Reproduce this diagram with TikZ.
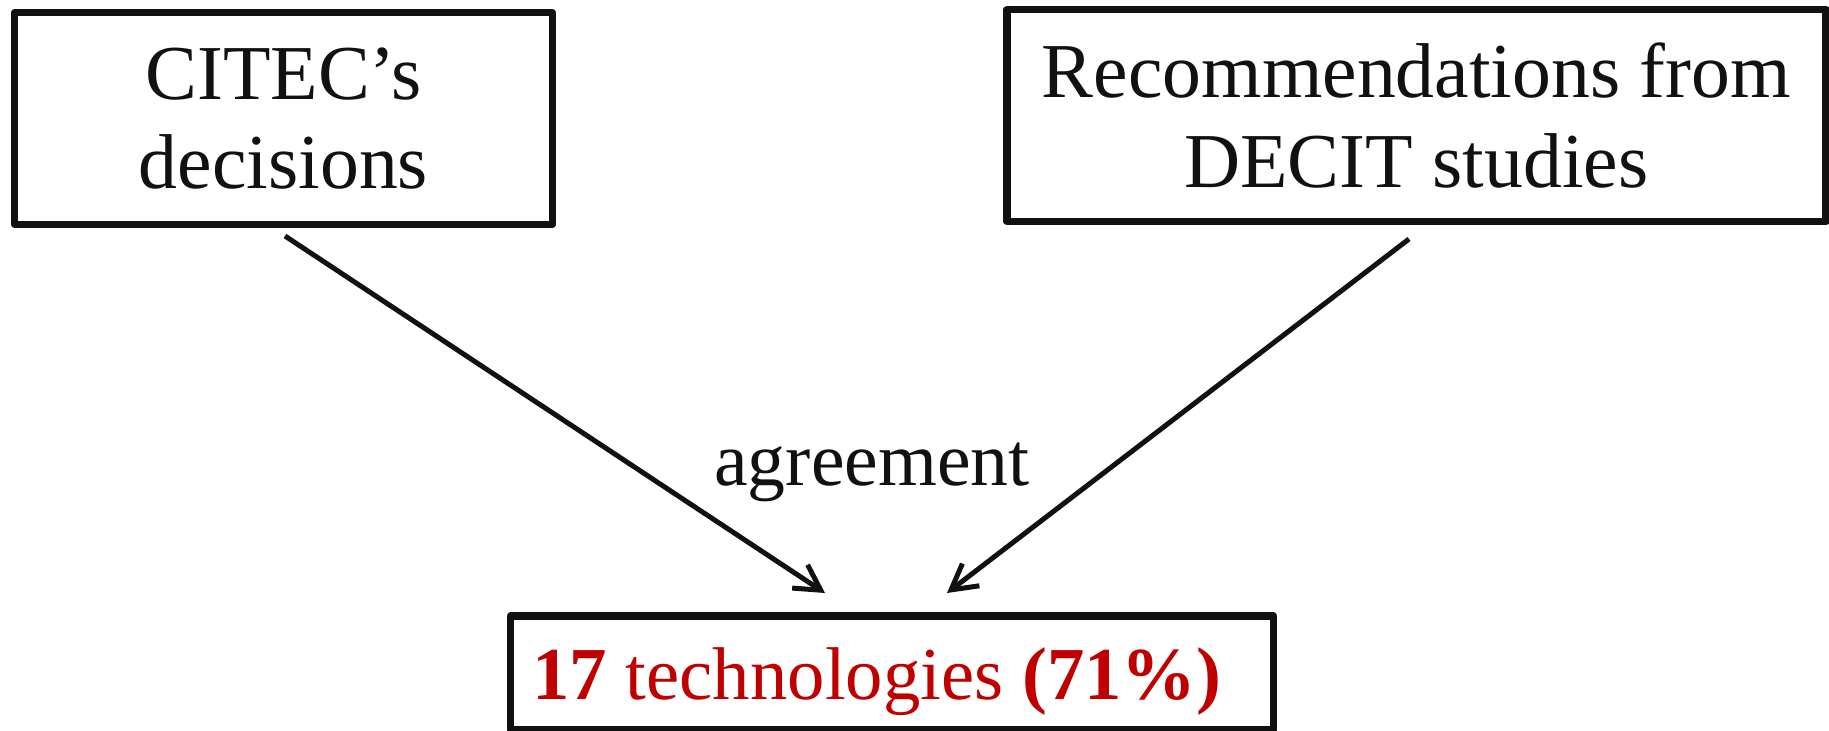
\documentclass[tikz,border=0pt]{standalone}
\usepackage{fontspec}
\setmainfont{Liberation Serif}
\usetikzlibrary{arrows.meta,calc}
\definecolor{ink}{HTML}{111111}
\definecolor{techred}{HTML}{C00000}
\tikzset{
  box/.style={draw=ink, line width=3.75bp, line join=round, inner sep=0pt, align=center, text=ink},
  toptext/.style={font=\fontsize{39}{45}\selectfont},
  arr/.style={draw=ink, line width=2.5bp, -{Straight Barb[length=12.5bp,width=14bp]}},
}
\begin{document}
\begin{tikzpicture}[x=0.5bp,y=-0.5bp]
\useasboundingbox (0,0) rectangle (1829,731);
\clip (0,0) rectangle (1829,731);
\node[box, toptext, minimum width=268.75bp, minimum height=105.75bp] (citec) at (283.5,118.5) {CITEC’s\\decisions};
\node[box, toptext, minimum width=409.5bp, minimum height=105.75bp] (rec) at (1416.4,115.5) {Recommendations from\\DECIT studies};
\node[box, minimum width=381.5bp, minimum height=57bp] (tech) at (892,673) {};
\node[anchor=base west, inner sep=0pt, text=techred, font=\fontsize{37.5}{45}\selectfont] (techtext) at (532,699) {\textbf{17} technologies \textbf{(71\%)}};
\node[anchor=base, inner sep=0pt, text=ink, font=\fontsize{38}{45}\selectfont] (agree) at (872,485) {agreement};
\coordinate (s1) at (285,236);
\coordinate (e1) at (825,593);
\coordinate (s2) at (1409,239);
\coordinate (e2) at (947,593);
\draw[arr] (s1) -- (e1);
\draw[arr] (s2) -- (e2);
\end{tikzpicture}
\end{document}
